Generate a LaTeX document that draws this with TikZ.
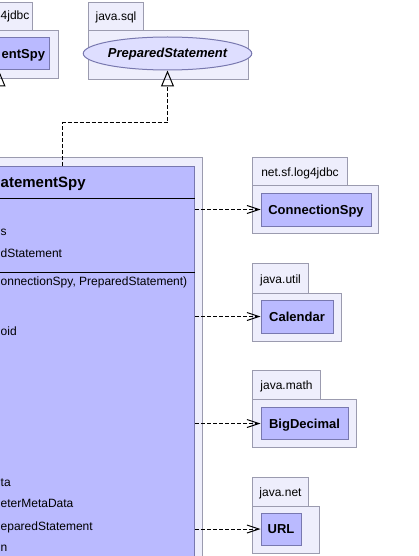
\documentclass[tikz,border=0pt]{standalone}
\usepackage{fontspec}
\setmainfont{Liberation Sans}
\usetikzlibrary{shapes.geometric,arrows.meta}

\definecolor{pkgfill}{RGB}{238,238,252}
\definecolor{pkgline}{RGB}{155,155,175}
\definecolor{clsfill}{RGB}{186,186,255}
\definecolor{clsline}{RGB}{120,120,175}
\definecolor{ellfill}{RGB}{222,222,255}

\begin{document}
\begin{tikzpicture}[x=1pt, y=-1pt,
  pkg/.style={draw=pkgline, fill=pkgfill, line width=1pt, inner sep=0pt, anchor=north west},
  pkgtab/.style={pkg, text height=9pt, text depth=0pt, font=\fontsize{12}{14}\selectfont},
  cls/.style={draw=clsline, fill=clsfill, line width=1pt, inner sep=0pt, minimum height=32pt,
    text height=9pt, text depth=0pt, font=\bfseries\fontsize{13}{15}\selectfont},
  member/.style={inner sep=0pt, anchor=base west, font=\fontsize{12}{14}\selectfont},
  dep/.style={draw, line width=1pt, dash pattern=on 4pt off 2pt, -{Straight Barb[length=12pt,width=8pt]}},
  impl/.style={draw, line width=1pt, dash pattern=on 4pt off 2pt, -{Triangle[open, length=16pt, width=13pt]}},
  inherit/.style={draw, line width=1pt, -{Triangle[open, length=16pt, width=13pt]}}
]
\useasboundingbox (0,0) rectangle (418,556);
\clip (0,0) rectangle (418,556);

% packages
\node[pkgtab, minimum width=102pt, minimum height=28pt] (spytab) at (-70,2) {};
\node[pkg, minimum width=138pt, minimum height=48pt] (spybody) at (-80,30) {};
\node[pkgtab, minimum width=55pt, minimum height=28pt] (sqltab) at (88,2) {java.sql};
\node[pkg, minimum width=160pt, minimum height=49pt] (sqlbody) at (88,30) {};
\node[pkg, minimum width=280pt, minimum height=500pt] (stmtpkg) at (-78,157) {};

\node[pkgtab, minimum width=95pt, minimum height=28pt] (logtab) at (252,157) {net.sf.log4jdbc};
\node[pkg, minimum width=126pt, minimum height=48pt] (logbody) at (252,185) {};
\node[pkgtab, minimum width=56pt, minimum height=30pt] (utiltab) at (252,263) {java.util};
\node[pkg, minimum width=89pt, minimum height=48pt] (utilbody) at (252,293) {};
\node[pkgtab, minimum width=68pt, minimum height=29pt] (mathtab) at (252,370) {java.math};
\node[pkg, minimum width=104pt, minimum height=48pt] (mathbody) at (252,399) {};
\node[pkgtab, minimum width=56pt, minimum height=29pt] (nettab) at (252,477) {java.net};
\node[pkg, minimum width=67pt, minimum height=47pt] (netbody) at (252,506) {};

% classes
\node[cls, minimum width=100pt] (spy) at (-1,54) {};
\node[draw=clsline, fill=ellfill, ellipse, line width=1pt, inner sep=0pt,
  minimum width=145pt, minimum height=33pt, text height=9pt, text depth=0pt,
  font=\bfseries\itshape\fontsize{13}{15}\selectfont] (prep) at (167.5,53.5) {PreparedStatement};
\node[cls, anchor=north west, minimum width=264pt, minimum height=450pt] (stmt) at (-70,166) {};
\node[cls, minimum width=110pt, minimum height=33pt] (cspy) at (316,209.5) {ConnectionSpy};
\node[cls, minimum width=72pt, minimum height=33pt] (cal) at (297,316.5) {Calendar};
\node[cls, minimum width=87pt] (bigdec) at (304.5,423.5) {BigDecimal};
\node[cls, minimum width=40pt] (url) at (281,529) {URL};

% texts at the left edge
\node[member] (spylabel) at (0.5,19.5) {4jdbc};
\node[member, font=\bfseries\fontsize{13}{15}\selectfont] (spyname) at (1.5,58.5) {entSpy};
\node[member, font=\bfseries\fontsize{15}{18}\selectfont] (title) at (0.5,187.3) {atementSpy};
\draw[line width=1pt] (stmt.west |- 0,198) -- (stmt.east |- 0,198);
\draw[line width=1pt] (stmt.west |- 0,272) -- (stmt.east |- 0,272);
\foreach \my/\mtext [count=\i] in {235.7/s, 257.3/dStatement,
    285.5/{onnectionSpy, PreparedStatement)}, 335.7/oid, 486.7/ta,
    507.7/eterMetaData, 530/eparedStatement, 551.7/n}
  \node[member] (mem\i) at (0.5,\my) {\mtext};

% connectors
\draw[inherit] (stmt.north -| spy.south) -- (spy.south);
\draw[impl] (stmt.north) -- ++(0,-43) -| (prep.south);
\draw[dep] (stmt.east |- cspy.west) -- (cspy.west);
\draw[dep] (stmt.east |- cal.west) -- (cal.west);
\draw[dep] (stmt.east |- bigdec.west) -- (bigdec.west);
\draw[dep] (stmt.east |- url.west) -- (url.west);
\end{tikzpicture}
\end{document}
